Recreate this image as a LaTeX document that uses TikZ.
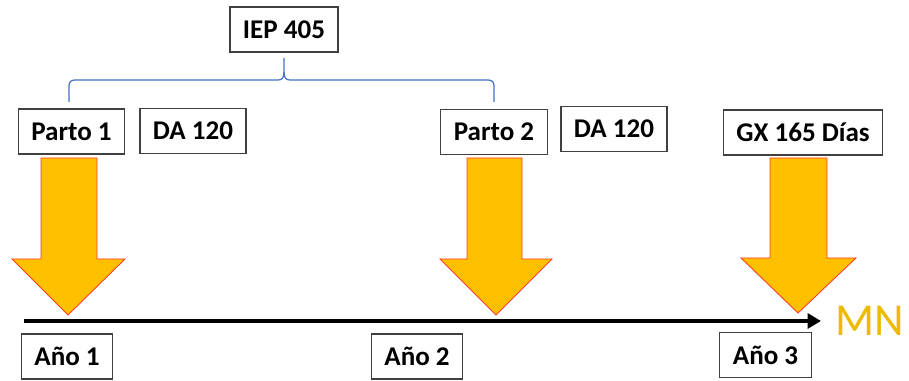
\documentclass[tikz,border=0pt]{standalone}
\usepackage{fontspec}
\setmainfont{Carlito}
\usepackage{tikz}
\usetikzlibrary{arrows.meta}
\definecolor{gold}{RGB}{255,192,0}
\definecolor{edgered}{RGB}{255,60,40}
\definecolor{bracketblue}{RGB}{68,114,196}
\definecolor{boxgray}{RGB}{64,64,64}
\definecolor{mngold}{RGB}{238,186,0}

\begin{document}
\begin{tikzpicture}[x=0.02cm,y=-0.02cm,
	label box/.style={draw=boxgray,line width=0.7pt,fill=white,minimum height=0.9cm,inner xsep=0.26cm,inner ysep=0pt,font=\fontsize{15.4}{18}\selectfont\bfseries},
	big arrow/.style={fill=gold,draw=edgered,line width=0.5pt,line join=miter},
	bracket/.style={draw=bracketblue,line width=0.7pt}]
	\useasboundingbox (0,0) rectangle (909,381);

	\node[label box] (IEP) at (284,29.5) {IEP 405};
	\node[label box] (P1) at (71.5,131.5) {Parto 1};
	\node[label box] (DA1) at (193,131) {DA 120};
	\node[label box] (P2) at (494,132) {Parto 2};
	\node[label box] (DA2) at (614,129) {DA 120};
	\node[label box] (GX) at (803,132.5) {GX 165 Días};

	\node[label box] (Y1) at (67,356.5) {Año 1};
	\node[label box] (Y2) at (417,356.5) {Año 2};
	\node[label box] (Y3) at (765.5,355) {Año 3};

	\coordinate (T0) at (24,321);
	\coordinate (T1) at (821,321);
	\node[text=mngold,font=\fontsize{26}{30}\selectfont,anchor=west,inner sep=0pt] (MN) at (835,321) {MN};

	\coordinate (B1) at (69,102);
	\coordinate (B2) at (494,102);

	\draw[bracket] (B1) -- (69,86) .. controls (69,82) and (71,80) .. (75,80) -- (278,80) .. controls (282,80) and (284,78) .. (284,72) -- (284,58);
	\draw[bracket] (284,72) .. controls (284,78) and (286,80) .. (290,80) -- (488,80) .. controls (492,80) and (494,82) .. (494,86) -- (B2);

	\draw[line width=2.3pt,-{Triangle[length=0.27cm,width=0.3cm]}] (T0) -- (T1);

	\draw[big arrow] (68,315) -- (12,259) -- (41,259) -- (41,158) -- (97,158) -- (97,259) -- (125,259) -- cycle;
	\draw[big arrow] (496,315) -- (440,259) -- (467,259) -- (467,158) -- (522,158) -- (522,259) -- (552,259) -- cycle;
	\draw[big arrow] (798,313) -- (741,258) -- (770,258) -- (770,158) -- (827,158) -- (827,258) -- (856,258) -- cycle;
\end{tikzpicture}
\end{document}
